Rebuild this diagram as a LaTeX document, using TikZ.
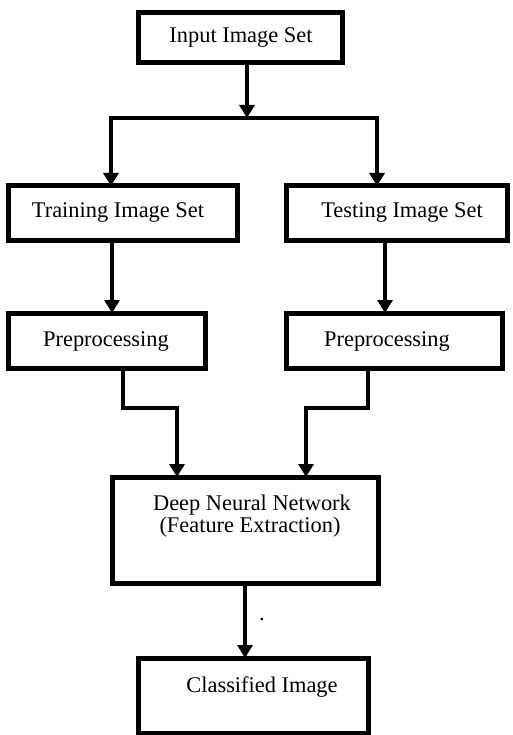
\documentclass[tikz,border=0pt]{standalone}
\usepackage{fontspec}
\setmainfont{Liberation Serif}
\usetikzlibrary{arrows.meta}
\begin{document}
\begin{tikzpicture}[x=1pt,y=-1pt,
  box/.style={draw=black,line width=5pt,minimum width=#1,inner sep=0pt,outer sep=0pt},
  lbl/.style={anchor=base,inner sep=0pt,font=\fontsize{22.4}{22}\selectfont},
  link/.style={line width=4.2pt,-{Triangle[length=13pt,width=15pt]}},
  wire/.style={line width=4.2pt}]
\useasboundingbox (0,0) rectangle (512,735);

% boxes
\node[box=204pt,minimum height=50pt] (inp)   at (240,38) {};
\node[box=229pt,minimum height=54pt] (train) at (122.5,213) {};
\node[box=221pt,minimum height=54pt] (test)  at (396.5,213) {};
\node[box=197pt,minimum height=55pt] (pre1)  at (106.5,340.5) {};
\node[box=216pt,minimum height=55pt] (pre2)  at (394,340.5) {};
\node[box=266pt,minimum height=106pt] (dnn)  at (245,530) {};
\node[box=230pt,minimum height=75pt] (cls)   at (253,695.5) {};

% labels
\node[lbl] (tinp)   at (241,43)  {Input Image Set};
\node[lbl] (ttrain) at (118,218) {Training Image Set};
\node[lbl] (ttest)  at (402,218) {Testing Image Set};
\node[lbl] (tpre1)  at (106,346) {Preprocessing};
\node[lbl] (tpre2)  at (387,346) {Preprocessing};
\node[lbl] (tdnn1)  at (252,510) {Deep Neural Network};
\node[lbl] (tdnn2)  at (250,532) {(Feature Extraction)};
\node[lbl] (tcls)   at (262,692) {Classified Image};
\node[lbl] (dot)    at (262,620) {.};

% junction points
\coordinate (split)  at (247,118);
\coordinate (splitL) at (111,118);
\coordinate (splitR) at (377,118);
\coordinate (bendL1) at (123,408);
\coordinate (bendL2) at (177,408);
\coordinate (bendR1) at (368,408);
\coordinate (bendR2) at (306,408);

% connectors
\draw[link] (inp.south -| split) -- (split);
\draw[wire] ([xshift=-2.1pt]splitL) -- ([xshift=2.1pt]splitR);
\draw[link] ([yshift=-2.1pt]splitL) -- (splitL |- train.north);
\draw[link] ([yshift=-2.1pt]splitR) -- (splitR |- test.north);
\draw[link] (train.south -| 112,0) -- (pre1.north -| 112,0);
\draw[link] (test.south -| 385,0) -- (pre2.north -| 385,0);
\draw[link,line join=miter] (pre1.south -| bendL1) -- (bendL1) -- (bendL2) -- (dnn.north -| bendL2);
\draw[link,line join=miter] (pre2.south -| bendR1) -- (bendR1) -- (bendR2) -- (dnn.north -| bendR2);
\draw[link] (dnn.south -| 245,0) -- (cls.north -| 245,0);
\end{tikzpicture}
\end{document}
